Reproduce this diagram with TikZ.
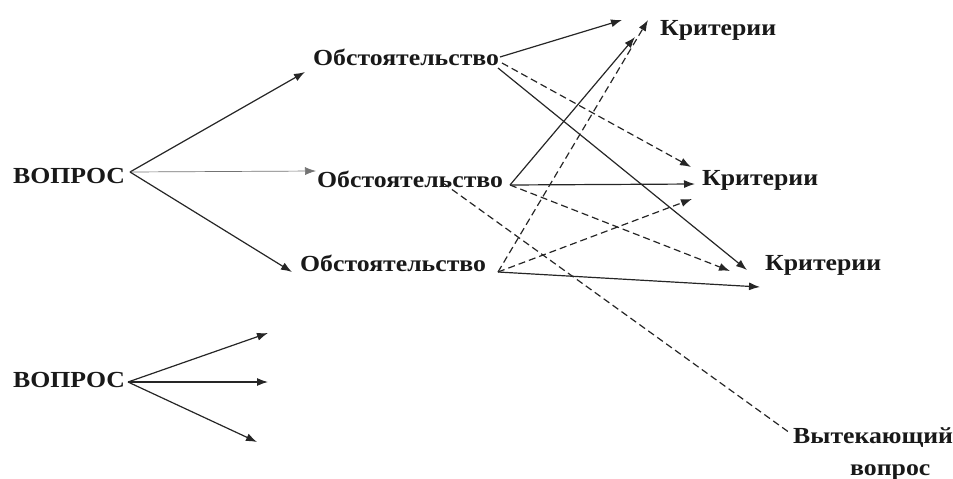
\documentclass[tikz,border=0pt]{standalone}
\usepackage{fontspec}
\newfontfamily\lf{Liberation Serif}[FakeStretch=1.12]
\usetikzlibrary{arrows.meta}
\tikzset{
  lbl/.style={inner sep=0pt, anchor=base west, text=black!90, font=\lf\bfseries\fontsize{23}{27}\selectfont},
  arr/.style={line width=1.2pt, draw=black!85, -{Latex[length=11pt,width=8pt]}},
  thinarr/.style={line width=0.7pt, draw=black!55, -{Latex[length=11pt,width=8pt]}},
  darr/.style={arr, dash pattern=on 7pt off 4pt},
  dline/.style={line width=1.2pt, draw=black!85, dash pattern=on 7pt off 4pt}
}
\begin{document}
\begin{tikzpicture}[x=1pt,y=-1pt]
\useasboundingbox (0,0) rectangle (953,479);
\node[lbl] (q1) at (13,183) {ВОПРОС};
\node[lbl] (o1) at (313,65) {Обстоятельство};
\node[lbl] (o2) at (317,187) {Обстоятельство};
\node[lbl] (o3) at (300,271) {Обстоятельство};
\node[lbl] (k1) at (660,35) {Критерии};
\node[lbl] (k2) at (702,185) {Критерии};
\node[lbl] (k3) at (765,270) {Критерии};
\node[lbl] (q2) at (13,387) {ВОПРОС};
\node[lbl] (v1) at (793,443) {Вытекающий};
\node[lbl] (v2) at (850,475) {вопрос};
\coordinate (c1) at (268,333);
\coordinate (c2) at (268,382);
\coordinate (c3) at (257,442);
% from first question
\draw[arr] ([shift={(117,-11)}]q1.base west) -- ([shift={(-8,7)}]o1.base west);
\draw[thinarr] ([shift={(117,-11)}]q1.base west) -- ([shift={(-1,-16)}]o2.base west);
\draw[arr] ([shift={(117,-11)}]q1.base west) -- ([shift={(-8,1)}]o3.base west);
% from o1
\draw[arr] ([shift={(187,-8)}]o1.base west) -- ([shift={(-38,-15)}]k1.base west);
\draw[darr] ([shift={(189,-2)}]o1.base west) -- ([shift={(-11,-18)}]k2.base west);
\draw[arr] ([shift={(185,3)}]o1.base west) -- ([shift={(-18,0)}]k3.base west);
% from o2
\draw[arr] ([shift={(193,-2)}]o2.base west) -- ([shift={(-25,2)}]k1.base west);
\draw[arr] ([shift={(193,-2)}]o2.base west) -- ([shift={(-7,-1)}]k2.base west);
\draw[darr] ([shift={(193,-2)}]o2.base west) -- ([shift={(-35,1)}]k3.base west);
\draw[dline] ([shift={(126,-4)}]o2.base west) -- ([shift={(-3,-10)}]v1.base west);
% from o3
\draw[darr] ([shift={(198,1)}]o3.base west) -- ([shift={(-12,-15)}]k1.base west);
\draw[darr] ([shift={(198,1)}]o3.base west) -- ([shift={(-10,14)}]k2.base west);
\draw[arr] ([shift={(198,1)}]o3.base west) -- ([shift={(-5,17)}]k3.base west);
% second question
\draw[arr] ([shift={(115,-5)}]q2.base west) -- (c1);
\draw[arr] ([shift={(115,-5)}]q2.base west) -- (c2);
\draw[arr] ([shift={(115,-5)}]q2.base west) -- (c3);
\end{tikzpicture}
\end{document}
